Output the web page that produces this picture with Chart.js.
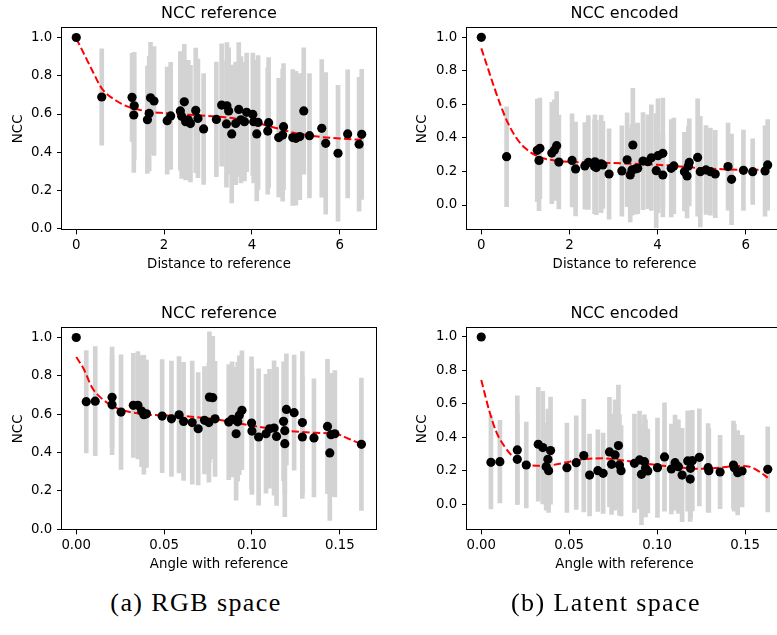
<!DOCTYPE html>
<html>
<head>
<meta charset="utf-8">
<script src="https://cdn.jsdelivr.net/npm/chart.js@4/dist/chart.umd.min.js"></script>
<style>
  html, body { margin: 0; padding: 0; width: 777px; height: 635px; overflow: hidden; background: #fff; }
  canvas { position: absolute; }
  .cap { position: absolute; width: 300px; text-align: center; font-family: "Liberation Serif", serif;
         font-size: 26px; letter-spacing: 1.4px; line-height: 30px; color: #000; }
</style>
</head>
<body>
<canvas id="c1" width="390" height="285" style="left:0;top:0"></canvas>
<canvas id="c2" width="408" height="285" style="left:388px;top:0"></canvas>
<canvas id="c3" width="390" height="285" style="left:0;top:300px"></canvas>
<canvas id="c4" width="408" height="285" style="left:388px;top:300px"></canvas>
<div class="cap" style="left:46px;top:588px">(a) RGB space</div>
<div class="cap" style="left:456px;top:588px">(b) Latent space</div>
<script>
// Tick values
const nccTicks = [0, 0.2, 0.4, 0.6, 0.8, 1.0];
const distTicks = [0, 2, 4, 6];
const angleTicks = [0, 0.05, 0.10, 0.15];

// NCC of the reference image vs distance (mean, std)
const refDistX = [0, 0.58, 1.27, 1.31, 1.32, 1.62, 1.66, 1.69, 1.77, 2.07, 2.15, 2.37, 2.40, 2.46, 2.49, 2.55, 2.60, 2.72, 2.77, 2.90, 3.19, 3.31, 3.42, 3.43, 3.47, 3.54, 3.63, 3.70, 3.75, 3.83, 3.88, 4.02, 4.04, 4.11, 4.14, 4.36, 4.38, 4.61, 4.70, 4.72, 4.93, 5.00, 5.09, 5.18, 5.31, 5.59, 5.68, 5.96, 6.18, 6.44, 6.50];
const refDistY = [1.0, 0.689, 0.687, 0.595, 0.643, 0.570, 0.603, 0.685, 0.668, 0.565, 0.590, 0.616, 0.588, 0.664, 0.560, 0.570, 0.550, 0.619, 0.577, 0.522, 0.572, 0.647, 0.548, 0.643, 0.616, 0.496, 0.551, 0.624, 0.570, 0.560, 0.609, 0.598, 0.560, 0.496, 0.556, 0.511, 0.555, 0.477, 0.490, 0.534, 0.477, 0.473, 0.482, 0.616, 0.487, 0.525, 0.447, 0.395, 0.496, 0.442, 0.494];
const refDistSd = [0, 0.252, 0.23, 0.30, 0.28, 0.28, 0.30, 0.29, 0.285, 0.28, 0.28, 0.31, 0.325, 0.30, 0.305, 0.31, 0.305, 0.325, 0.31, 0.29, 0.30, 0.32, 0.33, 0.33, 0.33, 0.36, 0.32, 0.35, 0.33, 0.31, 0.31, 0.32, 0.32, 0.35, 0.35, 0.33, 0.34, 0.31, 0.345, 0.33, 0.355, 0.35, 0.33, 0.33, 0.325, 0.36, 0.37, 0.355, 0.335, 0.35, 0.34];
const refDistFitX = [0, 0.17, 0.38, 0.58, 0.92, 1.22, 1.68, 2.0, 2.5, 3.0, 3.5, 4.0, 4.5, 5.0, 5.5, 6.0, 6.5];
const refDistFitY = [0.995, 0.917, 0.82, 0.734, 0.668, 0.635, 0.612, 0.605, 0.597, 0.59, 0.58, 0.56, 0.53, 0.50, 0.482, 0.472, 0.465];

// NCC of the encoded image vs distance
const encDistX = [0, 0.574, 1.27, 1.31, 1.33, 1.60, 1.66, 1.71, 1.76, 2.06, 2.14, 2.35, 2.43, 2.57, 2.58, 2.61, 2.72, 2.76, 2.90, 3.19, 3.31, 3.38, 3.42, 3.44, 3.50, 3.55, 3.67, 3.78, 3.86, 3.97, 4.01, 4.12, 4.12, 4.31, 4.37, 4.61, 4.67, 4.70, 4.72, 4.91, 4.97, 5.10, 5.20, 5.31, 5.60, 5.68, 5.95, 6.16, 6.44, 6.50];
const encDistY = [1.0, 0.288, 0.326, 0.266, 0.338, 0.31, 0.328, 0.354, 0.256, 0.266, 0.215, 0.233, 0.254, 0.229, 0.258, 0.223, 0.245, 0.239, 0.185, 0.203, 0.27, 0.179, 0.209, 0.358, 0.215, 0.219, 0.262, 0.258, 0.282, 0.205, 0.294, 0.308, 0.179, 0.219, 0.233, 0.199, 0.173, 0.233, 0.254, 0.284, 0.199, 0.209, 0.199, 0.185, 0.229, 0.153, 0.207, 0.199, 0.203, 0.239];
const encDistSd = [0, 0.298, 0.306, 0.30, 0.30, 0.302, 0.30, 0.323, 0.28, 0.278, 0.28, 0.258, 0.28, 0.28, 0.28, 0.28, 0.29, 0.26, 0.27, 0.27, 0.28, 0.28, 0.27, 0.338, 0.27, 0.27, 0.29, 0.28, 0.315, 0.34, 0.34, 0.33, 0.25, 0.29, 0.285, 0.235, 0.25, 0.235, 0.26, 0.35, 0.33, 0.265, 0.26, 0.26, 0.26, 0.27, 0.24, 0.195, 0.27, 0.27];
const encDistFitX = [0, 0.15, 0.3, 0.45, 0.6, 0.8, 1.0, 1.3, 1.6, 2.0, 3.0, 4.0, 5.0, 6.0, 6.5];
const encDistFitY = [0.934, 0.815, 0.696, 0.586, 0.491, 0.398, 0.338, 0.288, 0.268, 0.258, 0.25, 0.24, 0.22, 0.21, 0.21];

// NCC of the reference image vs angle
const refAngX = [0, 0.0057, 0.0108, 0.0204, 0.0204, 0.0255, 0.0325, 0.0351, 0.0372, 0.0385, 0.040, 0.0489, 0.0542, 0.0585, 0.0611, 0.066, 0.0694, 0.073, 0.0755, 0.0758, 0.0777, 0.079, 0.0868, 0.0887, 0.091, 0.0919, 0.0928, 0.0943, 0.0998, 0.1, 0.1038, 0.108, 0.11, 0.1126, 0.114, 0.118, 0.1187, 0.1187, 0.1196, 0.124, 0.1287, 0.1287, 0.1353, 0.143, 0.1443, 0.145, 0.1472, 0.1623];
const refAngY = [1.0, 0.665, 0.668, 0.688, 0.649, 0.611, 0.646, 0.646, 0.616, 0.597, 0.602, 0.590, 0.576, 0.597, 0.5625, 0.556, 0.524, 0.568, 0.556, 0.689, 0.686, 0.576, 0.559, 0.573, 0.498, 0.56, 0.594, 0.620, 0.554, 0.512, 0.481, 0.498, 0.524, 0.528, 0.484, 0.5625, 0.514, 0.446, 0.625, 0.608, 0.556, 0.481, 0.476, 0.536, 0.398, 0.493, 0.498, 0.443];
const refAngSd = [0, 0.267, 0.285, 0.262, 0.26, 0.299, 0.271, 0.28, 0.29, 0.31, 0.28, 0.295, 0.301, 0.304, 0.308, 0.321, 0.293, 0.28, 0.31, 0.34, 0.32, 0.30, 0.30, 0.30, 0.347, 0.31, 0.31, 0.31, 0.345, 0.33, 0.356, 0.31, 0.31, 0.35, 0.36, 0.31, 0.33, 0.38, 0.29, 0.30, 0.37, 0.32, 0.308, 0.35, 0.352, 0.32, 0.33, 0.345];
const refAngFitX = [0, 0.0042, 0.0089, 0.0136, 0.023, 0.0325, 0.0419, 0.0608, 0.0796, 0.0985, 0.1174, 0.136, 0.148, 0.155, 0.1623];
const refAngFitY = [0.898, 0.837, 0.741, 0.689, 0.632, 0.608, 0.597, 0.590, 0.573, 0.542, 0.516, 0.503, 0.497, 0.472, 0.443];

// NCC of the encoded image vs angle
const encAngX = [0, 0.0055, 0.0106, 0.0205, 0.0205, 0.0256, 0.0324, 0.035, 0.0369, 0.0379, 0.0383, 0.0394, 0.0487, 0.054, 0.0583, 0.0616, 0.0663, 0.0693, 0.0729, 0.0741, 0.0761, 0.078, 0.0786, 0.0795, 0.0871, 0.09, 0.0911, 0.0928, 0.0934, 0.0947, 0.1002, 0.1042, 0.1081, 0.1102, 0.1121, 0.1142, 0.1174, 0.1188, 0.119, 0.12, 0.124, 0.129, 0.1294, 0.1358, 0.1434, 0.1439, 0.1458, 0.1483, 0.1629];
const encAngY = [1.0, 0.251, 0.255, 0.325, 0.269, 0.235, 0.359, 0.339, 0.225, 0.269, 0.201, 0.321, 0.219, 0.249, 0.291, 0.175, 0.201, 0.185, 0.313, 0.239, 0.295, 0.351, 0.235, 0.201, 0.245, 0.265, 0.179, 0.255, 0.215, 0.199, 0.219, 0.283, 0.211, 0.249, 0.225, 0.175, 0.259, 0.151, 0.215, 0.261, 0.281, 0.219, 0.201, 0.193, 0.235, 0.219, 0.189, 0.199, 0.209];
const encAngSd = [0, 0.279, 0.247, 0.324, 0.27, 0.257, 0.34, 0.337, 0.26, 0.30, 0.25, 0.32, 0.267, 0.28, 0.337, 0.244, 0.244, 0.24, 0.327, 0.30, 0.33, 0.362, 0.30, 0.27, 0.294, 0.292, 0.30, 0.28, 0.29, 0.25, 0.297, 0.324, 0.269, 0.284, 0.28, 0.279, 0.30, 0.254, 0.30, 0.30, 0.29, 0.264, 0.25, 0.219, 0.262, 0.26, 0.252, 0.214, 0.254];
const encAngFitX = [0, 0.0047, 0.0085, 0.0133, 0.018, 0.0237, 0.0313, 0.0407, 0.0502, 0.0597, 0.0691, 0.0786, 0.0881, 0.1032, 0.1184, 0.126, 0.1354, 0.1449, 0.1525, 0.1581, 0.1629];
const encAngFitY = [0.743, 0.554, 0.434, 0.345, 0.285, 0.245, 0.231, 0.235, 0.255, 0.271, 0.275, 0.265, 0.251, 0.231, 0.215, 0.212, 0.219, 0.229, 0.225, 0.195, 0.159];

Chart.defaults.font.family = 'DejaVu Sans';
Chart.defaults.color = '#000';

const TICK_FONT = { family: 'DejaVu Sans', size: 13.33, weight: 'normal' };
const TITLE_FONT = { family: 'DejaVu Sans', size: 16, weight: 'normal' };

// Axes frame drawn on top of the data, like matplotlib spines
const framePlugin = {
  id: 'frame',
  afterDatasetsDraw(chart) {
    const { ctx, chartArea: a } = chart;
    ctx.save();
    ctx.strokeStyle = '#000';
    ctx.lineWidth = 1;
    const l = Math.round(a.left) - 0.5, t = Math.round(a.top) - 0.5;
    const r = Math.round(a.right) + 0.5, b = Math.round(a.bottom) + 0.5;
    ctx.strokeRect(l, t, r - l, b - t);
    ctx.restore();
  }
};

function panel(id, p) {
  const pts = p.x.map((v, i) => ({ x: v, y: p.y[i] }));
  const bars = p.x.map((v, i) => ({ x: v, y: [p.y[i] - p.sd[i], p.y[i] + p.sd[i]] }));
  const fit = p.fitX.map((v, i) => ({ x: v, y: p.fitY[i] }));
  const gridOpts = { display: true, offset: false, drawOnChartArea: false, drawTicks: true,
                     tickLength: 5, tickColor: '#000', tickWidth: 1 };
  new Chart(document.getElementById(id), {
    type: 'scatter',
    data: {
      datasets: [
        { type: 'bar', data: bars, backgroundColor: '#d3d3d3', borderWidth: 0, barThickness: 4, order: 3 },
        { type: 'line', data: fit, borderColor: '#ff0000', borderWidth: 2, borderDash: [7.4, 3.2],
          pointRadius: 0, fill: false, cubicInterpolationMode: 'monotone', order: 2 },
        { type: 'scatter', data: pts, backgroundColor: '#000', borderColor: '#000', borderWidth: 0,
          pointRadius: 4.6, order: 1 }
      ]
    },
    options: {
      responsive: false,
      animation: false,
      events: [],
      layout: { padding: { left: 0, top: 0, bottom: 0, right: 14 } },
      plugins: {
        legend: { display: false },
        tooltip: { enabled: false },
        title: { display: true, text: p.title, fullSize: false, font: TITLE_FONT, color: '#000',
                 padding: { top: 4.6, bottom: 4.5 } }
      },
      scales: {
        x: {
          type: 'linear', min: p.xMin, max: p.xMax, offset: false, bounds: 'data',
          afterBuildTicks: s => { s.ticks = p.xTicks.map(v => ({ value: v })); },
          afterFit: s => { s.height = 55.6; },
          ticks: { callback: p.xFmt, padding: 3.6, font: TICK_FONT, color: '#000', maxRotation: 0, autoSkip: false },
          grid: gridOpts,
          border: { display: false },
          title: { display: true, text: p.xTitle, font: TICK_FONT, color: '#000', padding: { top: 0, bottom: 12.7 } }
        },
        y: {
          type: 'linear', min: p.yMin, max: p.yMax, bounds: 'data', offset: false,
          afterBuildTicks: s => { s.ticks = nccTicks.map(v => ({ value: v })); },
          afterFit: s => { s.width = p.yWidth; },
          ticks: { callback: v => v.toFixed(1), padding: 4.7, font: TICK_FONT, color: '#000', autoSkip: false },
          grid: gridOpts,
          border: { display: false },
          title: { display: true, text: 'NCC', font: TICK_FONT, color: '#000', padding: { top: p.yTitlePad, bottom: 0 } }
        }
      }
    },
    plugins: [framePlugin]
  });
}

const distFmt = v => String(v);
const angleFmt = v => v.toFixed(2);

panel('c1', { x: refDistX, y: refDistY, sd: refDistSd, fitX: refDistFitX, fitY: refDistFitY,
  xMin: -0.325, xMax: 6.825, yMin: -0.003, yMax: 1.048, xTicks: distTicks, xFmt: distFmt,
  title: 'NCC reference', xTitle: 'Distance to reference', yWidth: 62, yTitlePad: 10.3 });
panel('c2', { x: encDistX, y: encDistY, sd: encDistSd, fitX: encDistFitX, fitY: encDistFitY,
  xMin: -0.325, xMax: 6.825, yMin: -0.1455, yMax: 1.054, xTicks: distTicks, xFmt: distFmt,
  title: 'NCC encoded', xTitle: 'Distance to reference', yWidth: 79, yTitlePad: 26.5 });
panel('c3', { x: refAngX, y: refAngY, sd: refAngSd, fitX: refAngFitX, fitY: refAngFitY,
  xMin: -0.0081, xMax: 0.1706, yMin: -0.001, yMax: 1.048, xTicks: angleTicks, xFmt: angleFmt,
  title: 'NCC reference', xTitle: 'Angle with reference', yWidth: 62, yTitlePad: 10.3 });
panel('c4', { x: encAngX, y: encAngY, sd: encAngSd, fitX: encAngFitX, fitY: encAngFitY,
  xMin: -0.0081, xMax: 0.171, yMin: -0.150, yMax: 1.052, xTicks: angleTicks, xFmt: angleFmt,
  title: 'NCC encoded', xTitle: 'Angle with reference', yWidth: 79, yTitlePad: 26.5 });
</script>
</body>
</html>
